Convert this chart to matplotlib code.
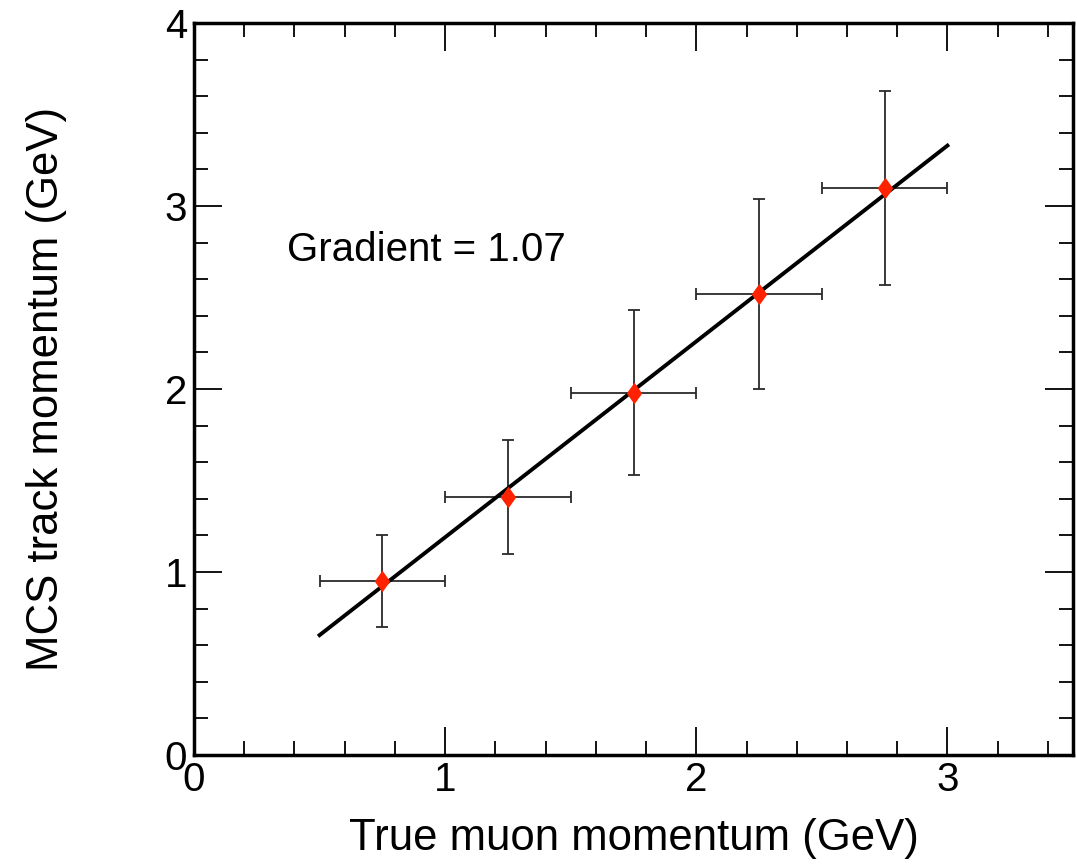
import matplotlib
matplotlib.use("Agg")
import matplotlib.pyplot as plt
from matplotlib.ticker import MultipleLocator
from matplotlib.path import Path
import numpy as np

plt.rcParams['font.family'] = ['Liberation Sans', 'DejaVu Sans']

x_true = [0.75, 1.25, 1.75, 2.25, 2.75]
y_mcs = [0.95, 1.41, 1.98, 2.52, 3.10]
x_err = [0.25, 0.25, 0.25, 0.25, 0.25]
y_err = [0.25, 0.31, 0.45, 0.52, 0.53]
fit_slope = 1.07
fit_intercept = 0.12
fit_range = [0.5, 3.0]

fig = plt.figure(figsize=(10.77, 8.66), dpi=100)
ax = fig.add_axes([194/1077, (866-755)/866, 879/1077, 732/866])

ax.errorbar(x_true, y_mcs, xerr=x_err, yerr=y_err, fmt='none', ecolor='#2a2a2a',
            elinewidth=1.3, capsize=4, capthick=1.3, zorder=2)
fx = np.array(fit_range)
ax.plot(fx, fit_slope * fx + fit_intercept, color='black', lw=2.8, zorder=3)
diamond = Path([(0, 1), (0.72, 0), (0, -1), (-0.72, 0), (0, 1)],
               [Path.MOVETO, Path.LINETO, Path.LINETO, Path.LINETO, Path.CLOSEPOLY])
ax.plot(x_true, y_mcs, linestyle='none', marker=diamond, color='#ff2200',
        markersize=15.5, markeredgewidth=0, zorder=4)

ax.text(0.37, 2.76, 'Gradient = 1.07', fontsize=29, va='center', ha='left')

ax.set_xlim(0, 3.5)
ax.set_ylim(0, 4)
ax.xaxis.set_major_locator(MultipleLocator(1))
ax.xaxis.set_minor_locator(MultipleLocator(0.2))
ax.yaxis.set_major_locator(MultipleLocator(1))
ax.yaxis.set_minor_locator(MultipleLocator(0.2))
ax.tick_params(which='both', direction='in', top=True, right=True, width=1.3, labelsize=29)
ax.tick_params(which='major', length=20)
ax.tick_params(which='minor', length=10)
ax.tick_params(axis='x', pad=4)
ax.tick_params(axis='y', pad=5)
for s in ax.spines.values():
    s.set_linewidth(2.5)

ax.set_xlabel('True muon momentum (GeV)', fontsize=31.5, labelpad=14)
ax.set_ylabel('MCS track momentum (GeV)', fontsize=31.5, labelpad=70)

fig.savefig('out.png', dpi=100)
